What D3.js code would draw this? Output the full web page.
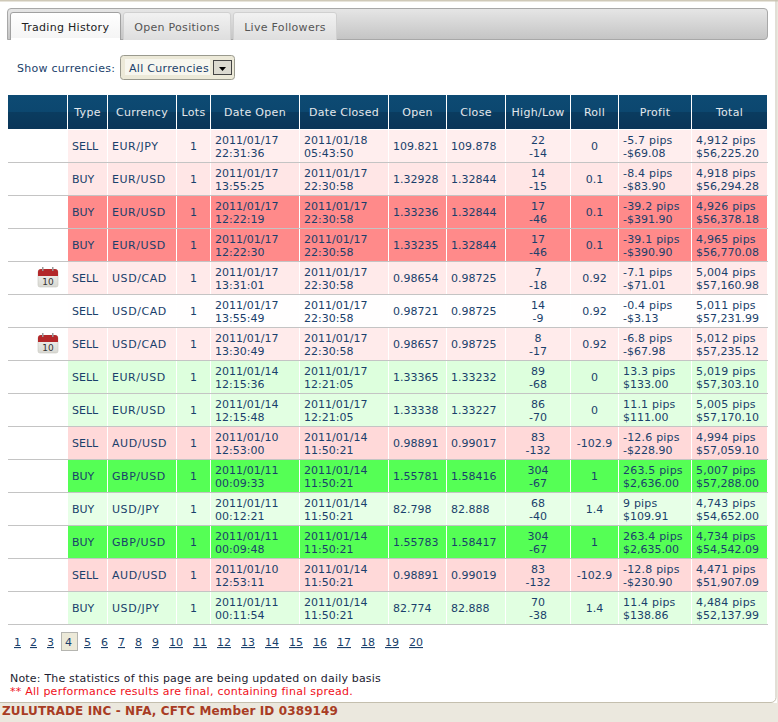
<!DOCTYPE html>
<html><head><meta charset="utf-8">
<script src="https://cdn.jsdelivr.net/npm/d3@7"></script>
<style>html,body{margin:0;padding:0;background:#fff;overflow:hidden}svg{display:block}text{font-family:"DejaVu Sans",Verdana,sans-serif;font-size:11px}</style>
</head><body><div id="c"></div>
<script>
const columns=["","Type","Currency","Lots","Date Open","Date Closed","Open","Close","High/Low","Roll","Profit","Total"];
const tabs=["Trading History","Open Positions","Live Followers"];
const types=["SELL","BUY","BUY","BUY","SELL","SELL","SELL","SELL","SELL","SELL","BUY","BUY","BUY","SELL","BUY"];
const currencies=["EUR/JPY","EUR/USD","EUR/USD","EUR/USD","USD/CAD","USD/CAD","USD/CAD","EUR/USD","EUR/USD","AUD/USD","GBP/USD","USD/JPY","GBP/USD","AUD/USD","USD/JPY"];
const lots=[1,1,1,1,1,1,1,1,1,1,1,1,1,1,1];
const dateOpen=["2011/01/17 22:31:36","2011/01/17 13:55:25","2011/01/17 12:22:19","2011/01/17 12:22:30","2011/01/17 13:31:01","2011/01/17 13:55:49","2011/01/17 13:30:49","2011/01/14 12:15:36","2011/01/14 12:15:48","2011/01/10 12:53:00","2011/01/11 00:09:33","2011/01/11 00:12:21","2011/01/11 00:09:48","2011/01/10 12:53:11","2011/01/11 00:11:54"];
const dateClosed=["2011/01/18 05:43:50","2011/01/17 22:30:58","2011/01/17 22:30:58","2011/01/17 22:30:58","2011/01/17 22:30:58","2011/01/17 22:30:58","2011/01/17 22:30:58","2011/01/17 12:21:05","2011/01/17 12:21:05","2011/01/14 11:50:21","2011/01/14 11:50:21","2011/01/14 11:50:21","2011/01/14 11:50:21","2011/01/14 11:50:21","2011/01/14 11:50:21"];
const openPx=["109.821","1.32928","1.33236","1.33235","0.98654","0.98721","0.98657","1.33365","1.33338","0.98891","1.55781","82.798","1.55783","0.98891","82.774"];
const closePx=["109.878","1.32844","1.32844","1.32844","0.98725","0.98725","0.98725","1.33232","1.33227","0.99017","1.58416","82.888","1.58417","0.99019","82.888"];
const high=[22,14,17,17,7,14,8,89,86,83,304,68,304,83,70];
const low=[-14,-15,-46,-46,-18,-9,-17,-68,-70,-132,-67,-40,-67,-132,-38];
const roll=["0","0.1","0.1","0.1","0.92","0.92","0.92","0","0","-102.9","1","1.4","1","-102.9","1.4"];
const profitPips=[-5.7,-8.4,-39.2,-39.1,-7.1,-0.4,-6.8,13.3,11.1,-12.6,263.5,9,263.4,-12.8,11.4];
const profitUsd=["-$69.08","-$83.90","-$391.90","-$390.90","-$71.01","-$3.13","-$67.98","$133.00","$111.00","-$228.90","$2,636.00","$109.91","$2,635.00","-$230.90","$138.86"];
const totalPips=["4,912","4,918","4,926","4,965","5,004","5,011","5,012","5,019","5,005","4,994","5,007","4,743","4,734","4,471","4,484"];
const totalUsd=["$56,225.20","$56,294.28","$56,378.18","$56,770.08","$57,160.98","$57,231.99","$57,235.12","$57,303.10","$57,170.10","$57,059.10","$57,288.00","$54,652.00","$54,542.09","$51,907.09","$52,137.99"];
const calendarRows=[4,6];
const pages=d3.range(1,21);
const currentPage=4;

const W=778,H=722;
const svg=d3.select("#c").append("svg").attr("width",W).attr("height",H);
const defs=svg.append("defs");
function grad(id,stops){const g=defs.append("linearGradient").attr("id",id).attr("x1",0).attr("x2",0).attr("y1",0).attr("y2",1);
 stops.forEach(s=>g.append("stop").attr("offset",s[0]).attr("stop-color",s[1]));}
grad("hd",[[0,"#0d4a73"],[.5,"#0c476f"],[.5,"#0a3c60"],[1,"#0a3558"]]);
grad("bar",[[0,"#e6e6e6"],[1,"#c4c4c4"]]);
grad("tab",[[0,"#f2f2f2"],[1,"#dedede"]]);
grad("act",[[0,"#ffffff"],[1,"#f4f4f4"]]);
grad("cal",[[0,"#f4f4f0"],[1,"#d8d8d2"]]);

const ink="#1a3f6b";
// page frame
svg.append("rect").attr("y",703).attr("width",W).attr("height",19).attr("fill","#ebe8de");
svg.append("rect").attr("x",777).attr("width",1).attr("height",H).attr("fill","#ebe8de");
svg.append("rect").attr("width",W).attr("height",1.5).attr("fill","#cfc9b8");
svg.append("path").attr("d","M0 702.5H771a5 5 0 0 0 5-5V0").attr("stroke","#c4bfae").attr("fill","none");
// tab bar
svg.append("path").attr("d","M7.5 39.5V12a3.5 3.5 0 0 1 3.5-3.5H764a3.5 3.5 0 0 1 3.5 3.5V36a3.5 3.5 0 0 1-3.5 3.5Z").attr("fill","url(#bar)").attr("stroke","#a8a8a8");
const tabX=d3.scaleOrdinal().domain(tabs).range([[10.5,120.5],[123.5,230.5],[233.5,336.5]]);
const tg=svg.append("g").selectAll("g").data(tabs).join("g");
tg.append("path").attr("d",(d)=>{const [a,b]=tabX(d);return `M${a} 40V15a2.5 2.5 0 0 1 2.5-2.5H${b-2.5}a2.5 2.5 0 0 1 2.5 2.5V40`;})
  .attr("fill",(d,i)=>i?"url(#tab)":"url(#act)").attr("stroke",(d,i)=>i?"#d0d0d0":"#a0a0a0");
tg.append("text").attr("x",d=>(tabX(d)[0]+tabX(d)[1])/2).attr("y",31).attr("text-anchor","middle").style("letter-spacing","0.3px")
  .attr("fill",(d,i)=>i?"#555":"#222").text(d=>d);
svg.append("rect").attr("x",11).attr("y",38).attr("width",109).attr("height",3).attr("fill","#fff");

// filter
svg.append("text").attr("x",17).attr("y",72).attr("fill",ink).style("letter-spacing","0.27px").text("Show currencies:");
svg.append("rect").attr("x",120.5).attr("y",55.5).attr("width",114).attr("height",24).attr("rx",3).attr("fill","#ece9d8").attr("stroke","#9a9a8e");
svg.append("rect").attr("x",125).attr("y",59).attr("width",85).attr("height",16).attr("fill","#f7f6ee");
svg.append("text").attr("x",129).attr("y",72).attr("fill",ink).style("letter-spacing","0.3px").text("All Currencies");
svg.append("rect").attr("x",213.5).attr("y",60.5).attr("width",18).attr("height",14).attr("fill","#dcdad0").attr("stroke","#444");
svg.append("path").attr("d","M219 67h7l-3.5 4z").attr("fill","#000");

// table
const edges=[8,68,108,177,211,300,389,447,506,571,619,692,768];
const x=d3.scaleOrdinal().domain(d3.range(12)).range(edges.slice(0,12));
const cw=i=>edges[i+1]-edges[i]-1;
const y=d3.scaleBand().domain(d3.range(15)).range([130,625]);
const rowColor=d3.scaleLinear().domain([-39.2,0,13,263.5]).range(["#ff8a8a","#ffffff","#ddffdd","#55ff55"]).clamp(true);

const hg=svg.append("g").selectAll("g").data(columns).join("g");
hg.append("rect").attr("x",(d,i)=>x(i)).attr("y",95).attr("width",(d,i)=>cw(i)).attr("height",34).attr("fill","url(#hd)");
hg.append("text").attr("x",(d,i)=>x(i)+cw(i)/2).attr("y",116).attr("text-anchor","middle").attr("fill","#e4e8ec").style("letter-spacing","0.3px").text(d=>d);

const rows=types.map((t,i)=>({i,cells:[null,[t],[currencies[i]],[String(lots[i])],dateOpen[i].split(" "),dateClosed[i].split(" "),[openPx[i]],[closePx[i]],[String(high[i]),String(low[i])],[roll[i]],[profitPips[i]+" pips",profitUsd[i]],[totalPips[i]+" pips",totalUsd[i]]]}));
const align=[null,"l","l","c","l","l","l","l","c","c","l","l"];
const pad=[0,4,4,0,4,4,4,4,0,0,4,4];
const rg=svg.append("g").selectAll("g").data(rows).join("g").attr("transform",d=>`translate(0,${y(d.i)})`);
rg.each(function(r){
  const g=d3.select(this);
  r.cells.forEach((lines,c)=>{
    if(!lines)return;
    g.append("rect").attr("x",x(c)).attr("y",0).attr("width",cw(c)).attr("height",32).attr("fill",rowColor(profitPips[r.i]));
    const cx=align[c]==="c"?x(c)+cw(c)/2:x(c)+pad[c];
    lines.forEach((t,k)=>{
      const yy=lines.length===1?20:14+13*k;
      const ls=c===2?0.55:(t.endsWith("pips")?0.2:0);
      g.append("text").attr("x",cx).attr("y",yy).attr("text-anchor",align[c]==="c"?"middle":"start").attr("fill",ink).style("letter-spacing",ls+"px").text(t);
    });
  });
  g.append("rect").attr("x",8).attr("y",32).attr("width",760).attr("height",1).attr("fill","#c4c4c4");
  if(calendarRows.includes(r.i)){
    const k=g.append("g").attr("transform","translate(38,5)");
    k.append("rect").attr("x",0).attr("y",3).attr("width",20).attr("height",17).attr("rx",2).attr("fill","url(#cal)").attr("stroke","#c8c8c0").attr("stroke-width",.6);
    k.append("path").attr("d","M0 9V5a3 3 0 0 1 3-3H17a3 3 0 0 1 3 3V9Z").attr("fill","#b3282a");
    k.append("rect").attr("x",4).attr("y",0).attr("width",1.5).attr("height",4).attr("fill","#999");
    k.append("rect").attr("x",14).attr("y",0).attr("width",1.5).attr("height",4).attr("fill","#999");
    k.append("text").attr("x",10).attr("y",18).attr("text-anchor","middle").attr("fill","#333").style("font-size","9px").text("10");
  }
});

// pagination
const px=[14,30,47,65,84,101,118,135,152,169,193,217,241,265,289,313,337,361,385,409];
const pageX=d3.scaleOrdinal().domain(pages).range(px);
svg.append("rect").attr("x",61.5).attr("y",632.5).attr("width",16).attr("height",18).attr("fill","#ece9d8").attr("stroke","#b5b5b0");
svg.append("g").selectAll("text").data(pages).join("text").attr("x",d=>pageX(d)).attr("y",646)
  .attr("fill",ink).attr("text-decoration",d=>d===currentPage?"none":"underline").text(d=>d);

// notes
svg.append("text").attr("x",10).attr("y",682).attr("fill","#1c1c30").style("letter-spacing","0.19px").text("Note: The statistics of this page are being updated on daily basis");
svg.append("text").attr("x",10).attr("y",695).attr("fill","#f0101a").style("letter-spacing","0.25px").text("** All performance results are final, containing final spread.");
svg.append("text").attr("x",2).attr("y",715).attr("fill","#a83c24").style("font-weight","bold").style("font-size","12px").style("letter-spacing","0.12px").text("ZULUTRADE INC - NFA, CFTC Member ID 0389149");
</script></body></html>
